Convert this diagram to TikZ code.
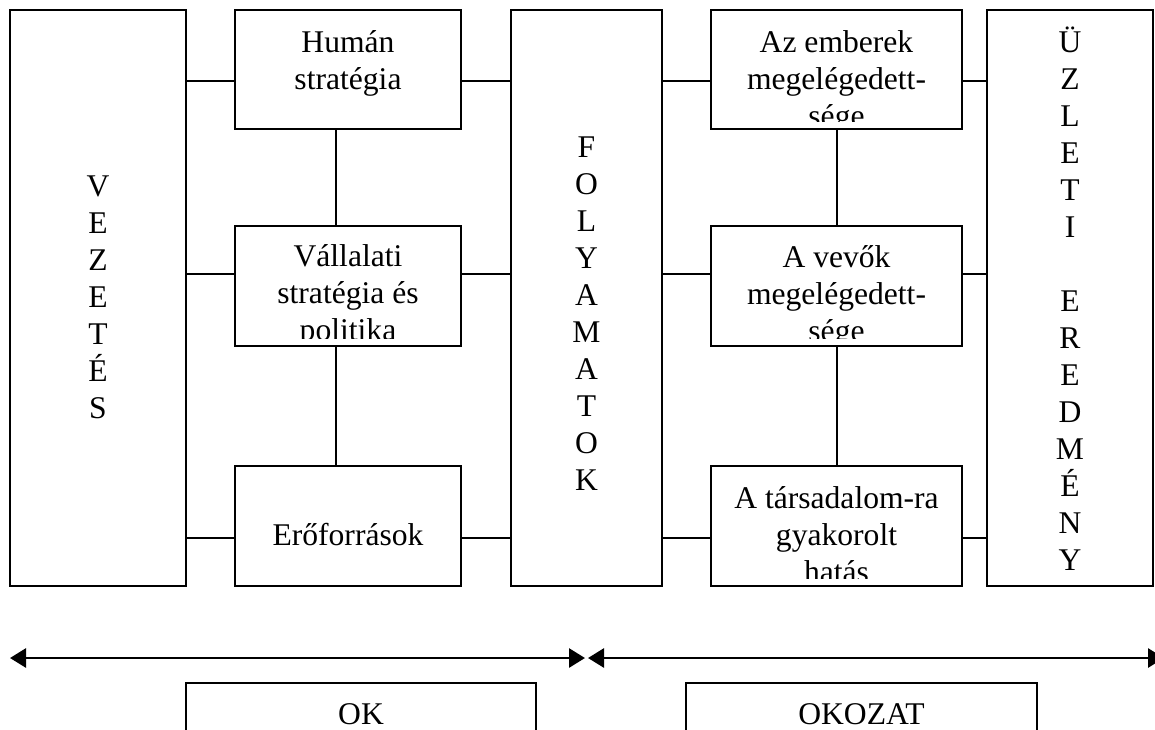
\documentclass[tikz,border=0pt]{standalone}
\usepackage{fontspec}
\setmainfont{Liberation Serif}
\usetikzlibrary{arrows.meta}

\begin{document}
\begin{tikzpicture}[x=0.5pt,y=-0.5pt,
  box/.style={draw,line width=1pt,inner sep=0},
  txt/.style={align=center,inner sep=0,anchor=north,font=\fontsize{15.8}{18.5}\selectfont},
  conn/.style={line width=1pt},
  arr/.style={{Triangle[length=8pt,width=9.5pt]}-{Triangle[length=8pt,width=9.5pt]},line width=1.4pt}]
\clip (0,0) rectangle (1155,729);

% columns
\node [box,minimum width=88pt,minimum height=288pt] (vez) at (98,298) {};
\node [box,minimum width=75.5pt,minimum height=288pt] (fol) at (586.5,298) {};
\node [box,minimum width=83pt,minimum height=288pt] (uzl) at (1070,298) {};
\node [txt,anchor=center] (vezt) at (98,297) {V\\E\\Z\\E\\T\\É\\S};
\node [txt,anchor=center] (folt) at (586.5,314) {F\\O\\L\\Y\\A\\M\\A\\T\\O\\K};
\node [txt,anchor=center] (uzlt) at (1070,299) {Ü\\Z\\L\\E\\T\\I\\\mbox{}\\E\\R\\E\\D\\M\\É\\N\\Y};

% left column boxes
\node [box,minimum width=113pt,minimum height=59.5pt] (hum) at (348,69.5) {};
\node [box,minimum width=113pt,minimum height=60pt] (val) at (348,286) {};
\node [box,minimum width=113pt,minimum height=60pt] (ero) at (348,526) {};
\node [txt] (humt) at ([yshift=-8.5pt]hum.north) {\strut Humán\\stratégia};
\begin{scope}
  \clip (val.north west) rectangle ([yshift=4.5pt]val.south east);
  \node [txt] (valt) at ([yshift=-7.5pt]val.north) {\strut Vállalati\\stratégia és\\politika};
\end{scope}
\node [txt] (erot) at ([yshift=-8.5pt]ero.north) {\strut\\Erőforrások};

% right column boxes
\node [box,minimum width=125.5pt,minimum height=59.5pt] (emb) at (836.5,69.5) {};
\node [box,minimum width=125.5pt,minimum height=60pt] (vev) at (836.5,286) {};
\node [box,minimum width=125.5pt,minimum height=60pt] (tar) at (836.5,526) {};
\begin{scope}
  \clip (emb.north west) rectangle ([yshift=4.5pt]emb.south east);
  \node [txt] (embt) at ([yshift=-8.5pt]emb.north) {\strut Az emberek\\megelégedett-\\sége};
\end{scope}
\begin{scope}
  \clip (vev.north west) rectangle ([yshift=4.5pt]vev.south east);
  \node [txt] (vevt) at ([yshift=-8pt]vev.north) {\strut A vevők\\megelégedett-\\sége};
\end{scope}
\begin{scope}
  \clip (tar.north west) rectangle ([yshift=4.5pt]tar.south east);
  \node [txt] (tart) at ([yshift=-8.5pt]tar.north) {\strut A társadalom-ra\\gyakorolt\\hatás};
\end{scope}

% connectors
\coordinate (r1) at (0,81);
\coordinate (r2) at (0,274);
\coordinate (r3) at (0,538);
\coordinate (c1) at (336,0);
\foreach \r/\a/\b in {r1/hum/emb,r2/val/vev,r3/ero/tar} {
  \draw [conn] (vez.east |- \r) -- (\a.west |- \r);
  \draw [conn] (\a.east |- \r) -- (fol.west |- \r);
  \draw [conn] (fol.east |- \r) -- (\b.west |- \r);
  \draw [conn] (\b.east |- \r) -- (uzl.west |- \r);
}
\draw [conn] (hum.south -| c1) -- (val.north -| c1);
\draw [conn] (val.south -| c1) -- (ero.north -| c1);
\draw [conn] (emb.south) -- (vev.north);
\draw [conn] (vev.south) -- (tar.north);

% cause and effect
\coordinate (a1) at (10,658);
\coordinate (a2) at (585,658);
\coordinate (a3) at (588,658);
\coordinate (a4) at (1164,658);
\draw [arr] (a1) -- (a2);
\draw [arr] (a3) -- (a4);
\node [box,minimum width=175pt,minimum height=25.5pt] (ok) at (361,708.5) {};
\node [box,minimum width=175.5pt,minimum height=25.5pt] (okz) at (861.5,708.5) {};
\begin{scope}
  \clip (ok.north west) rectangle ([yshift=5pt]ok.south east);
  \node [txt] (okt) at ([yshift=-8pt]ok.north) {\strut OK};
\end{scope}
\begin{scope}
  \clip (okz.north west) rectangle ([yshift=5pt]okz.south east);
  \node [txt] (okzt) at ([yshift=-8pt]okz.north) {\strut OKOZAT};
\end{scope}
\end{tikzpicture}
\end{document}
